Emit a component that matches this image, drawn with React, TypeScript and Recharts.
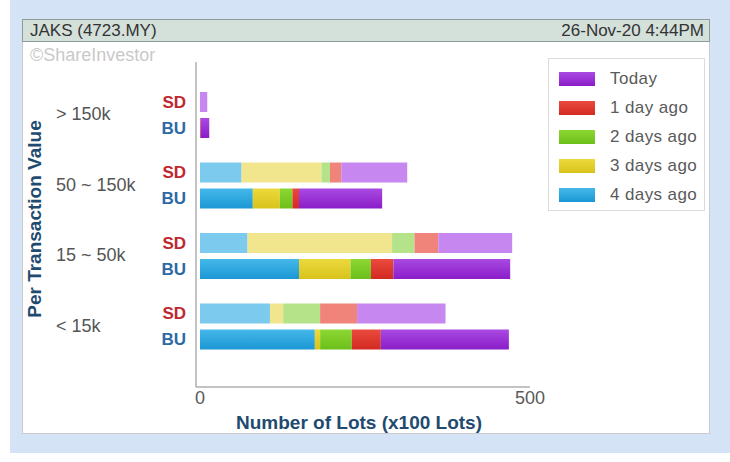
import { BarChart, Bar, XAxis, YAxis, Legend } from 'recharts';

const categories = ['> 150k', '50 ~ 150k', '15 ~ 50k', '< 15k'];
const xTicks = [0, 500];

// per-series values, one entry per category (x100 lots)
const sdDay4 = [0, 63, 72, 106];
const sdDay3 = [0, 121, 219, 20];
const sdDay2 = [0, 13, 34, 56];
const sdDay1 = [0, 17, 36, 56];
const sdToday = [11, 100, 112, 134];

const buDay4 = [0, 80, 150, 174];
const buDay3 = [0, 41, 78, 8];
const buDay2 = [0, 19, 31, 48];
const buDay1 = [1, 10, 34, 44];
const buToday = [13, 126, 177, 194];

const SERIES = [
  { key: 'day4', name: '4 days ago', top: '#45b8ea', bottom: '#1b97d4', light: '#7ccaee' },
  { key: 'day3', name: '3 days ago', top: '#ecd93c', bottom: '#d8c31c', light: '#f1e58e' },
  { key: 'day2', name: '2 days ago', top: '#8dd734', bottom: '#6cbf1a', light: '#b5e38a' },
  { key: 'day1', name: '1 day ago', top: '#ea4a3e', bottom: '#d22a22', light: '#f0837a' },
  { key: 'today', name: 'Today', top: '#a94ae2', bottom: '#8a1dc8', light: '#c787f0' },
];

const data = categories.map((name, i) => ({
  name,
  sd_day4: sdDay4[i],
  sd_day3: sdDay3[i],
  sd_day2: sdDay2[i],
  sd_day1: sdDay1[i],
  sd_today: sdToday[i],
  bu_day4: buDay4[i],
  bu_day3: buDay3[i],
  bu_day2: buDay2[i],
  bu_day1: buDay1[i],
  bu_today: buToday[i],
}));

const FONT = '"Liberation Sans", Arial, sans-serif';

function CategoryTick(props: { x?: number; y?: number; payload?: { value: string } }) {
  const { y = 0, payload } = props;
  return (
    <g fontFamily={FONT}>
      <text x={56} y={y - 1} dominantBaseline="central" fontSize={18} fill="#555">
        {payload?.value}
      </text>
      <text x={186} y={y - 13} dominantBaseline="central" textAnchor="end" fontSize={17} fontWeight={700} fill="#c0272d">
        SD
      </text>
      <text x={186} y={y + 13} dominantBaseline="central" textAnchor="end" fontSize={17} fontWeight={700} fill="#2d69a6">
        BU
      </text>
    </g>
  );
}

function LegendBox() {
  const items = [...SERIES].reverse();
  return (
    <div
      style={{
        width: 157,
        height: 153,
        border: '1px solid #dcdcdc',
        background: '#fff',
        boxSizing: 'border-box',
        paddingTop: 5,
        fontFamily: FONT,
      }}
    >
      {items.map(s => (
        <div key={s.key} style={{ display: 'flex', alignItems: 'center', height: 29 }}>
          <div
            style={{
              marginLeft: 10,
              width: 36,
              height: 14,
              background: `linear-gradient(${s.top}, ${s.bottom})`,
            }}
          />
          <span style={{ marginLeft: 15, fontSize: 17, color: '#5a5a5a', letterSpacing: 0.4 }}>{s.name}</span>
        </div>
      ))}
    </div>
  );
}

export default function App() {
  return (
    <div style={{ position: 'absolute', left: 0, top: 0, width: 730, height: 462, background: '#fff', fontFamily: FONT }}>
      <div style={{ position: 'absolute', left: 10, top: 0, width: 720, height: 453, background: '#d5e3f6' }} />
      <div
        style={{
          position: 'absolute',
          left: 22,
          top: 19,
          width: 688,
          height: 415,
          background: '#fff',
          border: '1px solid #cbcbcb',
          boxSizing: 'border-box',
        }}
      />
      <div
        style={{
          position: 'absolute',
          left: 22,
          top: 19,
          width: 688,
          height: 23,
          background: '#d4e0da',
          border: '1px solid #8e9b9b',
          boxSizing: 'border-box',
          display: 'flex',
          alignItems: 'center',
          justifyContent: 'space-between',
          padding: '0 5px 0 7px',
          fontSize: 17,
          color: '#333',
        }}
      >
        <span>JAKS (4723.MY)</span>
        <span>26-Nov-20 4:44PM</span>
      </div>
      <div style={{ position: 'absolute', left: 30, top: 45, fontSize: 18, color: '#c9c9c9' }}>©ShareInvestor</div>

      <div style={{ position: 'absolute', left: 0, top: 0 }}>
        <BarChart
          width={730}
          height={462}
          layout="vertical"
          data={data}
          margin={{ top: 62, right: 200, left: 0, bottom: 45 }}
          barSize={20}
          barGap={6}
        >
          <defs>
            {SERIES.map(s => (
              <linearGradient key={s.key} id={`g_${s.key}`} x1="0" y1="0" x2="0" y2="1">
                <stop offset="0%" stopColor={s.top} />
                <stop offset="100%" stopColor={s.bottom} />
              </linearGradient>
            ))}
          </defs>
          <XAxis
            type="number"
            domain={[0, 500]}
            ticks={xTicks}
            padding={{ left: 4, right: 0 }}
            height={30}
            tickLine={false}
            tickSize={2}
            axisLine={{ stroke: '#888' }}
            tick={{ fontSize: 18, fill: '#5a5a5a', fontFamily: FONT }}
          />
          <YAxis
            type="category"
            dataKey="name"
            width={196}
            padding={{ top: 18, bottom: 25 }}
            tickLine={false}
            axisLine={{ stroke: '#888' }}
            tick={<CategoryTick />}
          />
          <Legend
            layout="vertical"
            align="center"
            verticalAlign="middle"
            wrapperStyle={{ position: 'absolute', left: 548, top: 58, width: 157 }}
            content={() => <LegendBox />}
          />
          {SERIES.map(s => (
            <Bar key={`sd_${s.key}`} dataKey={`sd_${s.key}`} name={s.name} stackId="SD" fill={s.light} isAnimationActive={false} />
          ))}
          {SERIES.map(s => (
            <Bar key={`bu_${s.key}`} dataKey={`bu_${s.key}`} name={s.name} stackId="BU" fill={`url(#g_${s.key})`} isAnimationActive={false} />
          ))}
        </BarChart>
      </div>

      <div
        style={{
          position: 'absolute',
          left: 359,
          top: 423,
          transform: 'translate(-50%, -50%)',
          fontSize: 19,
          fontWeight: 700,
          color: '#1f4b70',
          whiteSpace: 'nowrap',
        }}
      >
        Number of Lots (x100 Lots)
      </div>
      <div
        style={{
          position: 'absolute',
          left: 35,
          top: 219,
          transform: 'translate(-50%, -50%) rotate(-90deg)',
          fontSize: 19,
          fontWeight: 700,
          color: '#1f4b70',
          whiteSpace: 'nowrap',
        }}
      >
        Per Transaction Value
      </div>
    </div>
  );
}
